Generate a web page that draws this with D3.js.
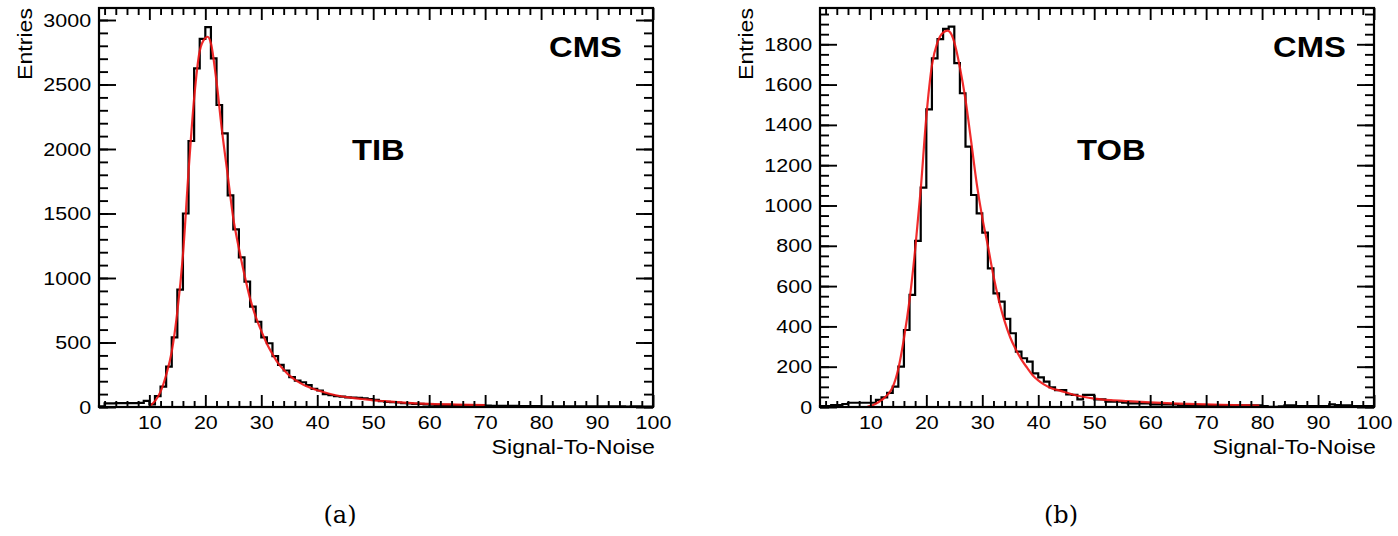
<!DOCTYPE html>
<html><head><meta charset="utf-8">
<script src="https://cdn.jsdelivr.net/npm/d3@7"></script>
<style>
body{margin:0;background:#fff}
svg{display:block}
text{font-family:"Liberation Sans",Arial,Helvetica,sans-serif;fill:#000}
</style>
</head><body>
<svg id="c" width="1398" height="536"></svg>
<script>
// ---------- data ----------
const binEdges = d3.range(1, 101);           // bin k spans [k, k+1]
const xMajorTicks = [10, 20, 30, 40, 50, 60, 70, 80, 90, 100];
const xMinorTicks = [2,4,6,8,12,14,16,18,22,24,26,28,32,34,36,38,42,44,46,48,52,54,56,58,62,64,66,68,72,74,76,78,82,84,86,88,92,94,96,98];

const tibCounts = [
  5, 28, 28, 30, 30, 30, 30, 32, 48, 20,
  85, 158, 313, 540, 910, 1500, 2062, 2625, 2853, 2945,
  2703, 2341, 2121, 1640, 1377, 1160, 972, 778, 661, 540,
  494, 395, 326, 283, 232, 205, 192, 170, 140, 128,
  100, 92, 85, 80, 75, 72, 70, 68, 62, 55,
  45, 40, 38, 35, 30, 28, 25, 25, 20, 18,
  17, 16, 16, 15, 14, 14, 13, 12, 12, 10,
  9, 9, 8, 8, 8, 7, 7, 7, 7, 6,
  6, 5, 6, 5, 5, 6, 5, 5, 6, 5,
  5, 5, 6, 5, 4, 5, 5, 4, 4
];
const tibFitX = [10, 11, 12, 13, 14, 15, 16, 17, 18, 19, 20, 20.4, 21, 22, 23, 24, 25, 26, 27, 28, 29, 30, 31, 32, 33, 34, 35, 36, 37, 38, 39, 40, 42, 44, 46, 48, 50, 52, 55, 58, 61, 65, 70];
const tibFitY = [5, 45, 119, 248, 429, 739, 1178, 1824, 2393, 2760, 2860, 2870, 2819, 2522, 2134, 1798, 1462, 1230, 1023, 840, 700, 590, 490, 410, 340, 290, 245, 212, 185, 162, 145, 130, 105, 85, 72, 62, 52, 45, 36, 28, 23, 19, 15];
const tibYMajor = [0, 500, 1000, 1500, 2000, 2500, 3000];
const tibYMinor = d3.range(0, 3100, 100);

const tobCounts = [
  5, 5, 10, 10, 15, 21, 21, 21, 21, 21,
  35, 48, 70, 101, 200, 382, 556, 824, 1089, 1477,
  1730, 1826, 1876, 1888, 1706, 1557, 1292, 1052, 961, 865,
  688, 564, 523, 437, 366, 275, 242, 225, 167, 147,
  126, 98, 84, 84, 62, 60, 38, 60, 60, 38,
  38, 26, 26, 26, 22, 18, 18, 18, 18, 13,
  13, 13, 13, 13, 8, 8, 8, 8, 8, 8,
  8, 8, 8, 8, 8, 8, 8, 8, 8, 5,
  1, 1, 3, 8, 8, 5, 5, 5, 5, 5,
  5, 13, 10, 8, 8, 4, 4, 4, 4
];
const tobFitX = [9.5, 10.5, 11.5, 12.5, 13.5, 14, 15, 16, 17, 18, 19, 20, 21, 22, 23, 23.8, 24.5, 25, 26, 27, 28, 29, 30, 31, 32, 33, 34, 35, 36, 37, 38, 39, 40, 41, 42, 44, 46, 48, 50, 53, 56, 60, 65, 70, 75, 79.5];
const tobFitY = [2, 10, 25, 45, 75, 100, 190, 340, 530, 780, 1080, 1440, 1695, 1810, 1858, 1868, 1848, 1810, 1685, 1525, 1320, 1110, 940, 800, 650, 525, 425, 345, 285, 235, 195, 158, 132, 112, 97, 80, 63, 51, 42, 34, 29, 23, 17, 13, 10, 7];
const tobYMajor = [0, 200, 400, 600, 800, 1000, 1200, 1400, 1600, 1800];
const tobYMinor = d3.range(0, 2000, 50);

// ---------- drawing ----------
const svg = d3.select("#c");
const SX = 1.13; // horizontal stretch of glyphs

function panel(o) {
  const g = svg.append("g");
  const x = d3.scaleLinear().domain([1, 100]).range([o.left, o.right]);
  const y = d3.scaleLinear().domain([0, o.yMax]).range([o.bottom, o.top]);

  // histogram outline (step)
  const pts = [[binEdges[0], 0]];
  o.counts.forEach((c, i) => {
    pts.push([binEdges[i], c]);
    pts.push([binEdges[i + 1], c]);
  });
  g.append("path")
    .attr("d", d3.line().x(d => x(d[0])).y(d => y(d[1]))(pts))
    .attr("fill", "none").attr("stroke", "#000").attr("stroke-width", 2.2)
    .attr("stroke-linejoin", "miter");

  // fit curve
  const fit = o.fitX.map((v, i) => [v, o.fitY[i]]);
  g.append("path")
    .attr("d", d3.line().curve(d3.curveMonotoneX).x(d => x(d[0])).y(d => y(d[1]))(fit))
    .attr("fill", "none").attr("stroke", "#f01515").attr("stroke-width", 2.2).attr("stroke-opacity", 0.9);

  const style = sel => {
    sel.select(".domain").remove();
    sel.selectAll("line").attr("stroke", "#000").attr("stroke-width", 1.9);
  };
  const minorX = xMinorTicks;
  // bottom
  g.append("g").attr("transform", `translate(0,${o.bottom})`)
    .call(d3.axisBottom(x).tickValues(minorX).tickSize(-6).tickFormat("")).call(style);
  const bx = g.append("g").attr("transform", `translate(0,${o.bottom})`)
    .call(d3.axisBottom(x).tickValues(xMajorTicks).tickSize(-12).tickPadding(9)).call(style);
  bx.selectAll("text").attr("font-size", 19).attr("font-family", "Liberation Sans")
    .attr("transform", `scale(${SX},1)`);
  // top
  g.append("g").attr("transform", `translate(0,${o.top})`)
    .call(d3.axisTop(x).tickValues(minorX).tickSize(-7).tickFormat("")).call(style);
  g.append("g").attr("transform", `translate(0,${o.top})`)
    .call(d3.axisTop(x).tickValues(xMajorTicks).tickSize(-12).tickFormat("")).call(style);
  // left
  g.append("g").attr("transform", `translate(${o.left},0)`)
    .call(d3.axisLeft(y).tickValues(o.yMinor).tickSize(-9).tickFormat("")).call(style);
  const ly = g.append("g").attr("transform", `translate(${o.left},0)`)
    .call(d3.axisLeft(y).tickValues(o.yMajor).tickSize(-17).tickPadding(7).tickFormat(d3.format("d"))).call(style);
  ly.selectAll("text").attr("font-size", 19).attr("font-family", "Liberation Sans")
    .attr("transform", `scale(${SX},1)`);
  // right
  g.append("g").attr("transform", `translate(${o.right},0)`)
    .call(d3.axisRight(y).tickValues(o.yMinor).tickSize(-9).tickFormat("")).call(style);
  g.append("g").attr("transform", `translate(${o.right},0)`)
    .call(d3.axisRight(y).tickValues(o.yMajor).tickSize(-17).tickFormat("")).call(style);

  // frame
  g.append("rect").attr("x", o.left).attr("y", o.top)
    .attr("width", o.right - o.left).attr("height", o.bottom - o.top)
    .attr("fill", "none").attr("stroke", "#000").attr("stroke-width", 2.2);

  // axis titles
  g.append("text").text("Signal-To-Noise")
    .attr("transform", `translate(${o.right + 2},454) scale(${SX},1)`)
    .attr("text-anchor", "end").attr("font-size", 20.5);
  g.append("text").text("Entries")
    .attr("transform", `translate(${o.left - 67},8) rotate(-90) scale(${SX},1)`)
    .attr("text-anchor", "end").attr("font-size", 20.5);

  // labels
  g.append("text").text("CMS")
    .attr("transform", `translate(${o.cmsX},57) scale(${SX},1)`)
    .attr("font-size", 29).attr("font-weight", "bold");
  g.append("text").text(o.label)
    .attr("transform", `translate(${o.labelX},160) scale(${SX},1)`)
    .attr("font-size", 29).attr("font-weight", "bold");
  g.append("text").text(o.caption)
    .attr("x", o.captionX).attr("y", 523)
    .attr("text-anchor", "middle").attr("font-size", 24)
    .style("font-family", "'DejaVu Serif','Liberation Serif',serif");
}

panel({left: 99, right: 653, top: 8, bottom: 407, yMax: 3093,
  counts: tibCounts, fitX: tibFitX, fitY: tibFitY,
  yMajor: tibYMajor, yMinor: tibYMinor,
  label: "TIB", labelX: 352, cmsX: 549, caption: "(a)", captionX: 340});
panel({left: 820, right: 1374, top: 8, bottom: 407, yMax: 1980,
  counts: tobCounts, fitX: tobFitX, fitY: tobFitY,
  yMajor: tobYMajor, yMinor: tobYMinor,
  label: "TOB", labelX: 1077, cmsX: 1273, caption: "(b)", captionX: 1061});
</script>
</body></html>
